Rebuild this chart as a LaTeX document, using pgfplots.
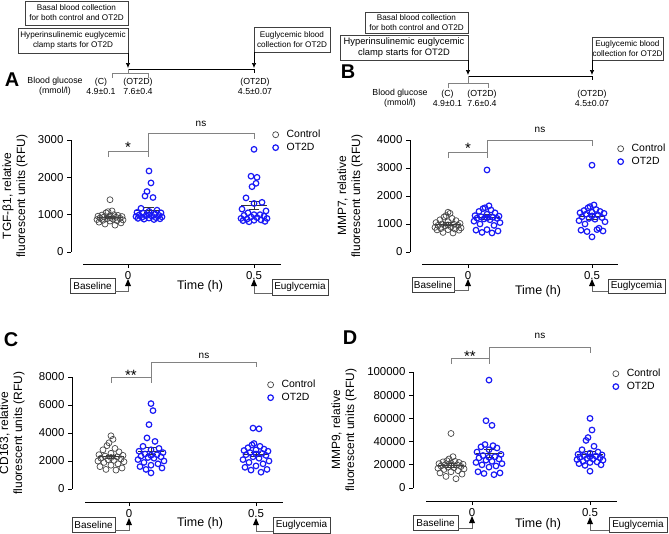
\documentclass[border=0pt]{standalone}
\usepackage{fontspec}
\setmainfont{Liberation Sans}
\usepackage{pgfplots}
\pgfplotsset{compat=1.18}
\usetikzlibrary{arrows.meta}

\definecolor{otblue}{RGB}{25,25,245}
\definecolor{ctrlgray}{RGB}{70,70,70}
\definecolor{brkgray}{RGB}{130,130,130}

\pgfplotsset{
  panel/.style={
    scale only axis, clip=false, anchor=south west,
    axis lines*=left, axis line style={draw=none},
    tick align=outside, major tick length=4bp,
    tick style={black, line width=0.9bp},
    scaled y ticks=false, scaled x ticks=false,
    xtick={0,0.5}, xticklabels={0,0.5},
    tick label style={font=\fontsize{11.5}{12}\selectfont},
    legend style={draw=none, fill=none, anchor=north west,
      font=\fontsize{10.5}{12}\selectfont, nodes={inner sep=1bp},
      row sep=2bp, column sep=7bp},
    legend cell align=left,
  },
  ctrl/.style={only marks, mark=o, mark size=3bp, mark options={draw=ctrlgray, line width=0.7bp}},
  ot/.style={only marks, mark=o, mark size=2.8bp, mark options={draw=otblue, line width=1.2bp}},
  mean/.style={black!80, line width=0.9bp, forget plot, unbounded coords=jump, mark=none},
}
\tikzset{
  box/.style={draw=black!75, line width=0.6bp},
  sch/.style={align=center, inner sep=0pt, font=\fontsize{8.2}{10}\selectfont},
  glu/.style={align=center, inner sep=0pt, font=\fontsize{8.8}{10}\selectfont},
  tl/.style={black, line width=0.8bp},
  brk/.style={draw=brkgray, line width=0.8bp},
  conn/.style={draw=black!60, line width=0.6bp},
  axl/.style={black, line width=1bp},
  arr/.style={-{Latex[length=5bp,width=4.5bp]}, black, line width=0.7bp},
  bt/.style={inner sep=0pt, font=\fontsize{10}{12}\selectfont},
  letter/.style={inner sep=0pt, font=\bfseries\fontsize{20}{20}\selectfont},
  ylab/.style={rotate=90, align=center, inner sep=0pt, font=\fontsize{12}{14}\selectfont},
  tlab/.style={inner sep=0pt, font=\fontsize{12.5}{14}\selectfont},
  star/.style={anchor=base, inner sep=0pt, font=\fontsize{15}{15}\selectfont},
  ns/.style={inner sep=0pt, font=\fontsize{10}{12}\selectfont},
}
% up-pointing filled triangle with its tip at (#1,#2)
\newcommand{\uptri}[2]{\fill[black] (#1-3,#2+7) -- (#1+3,#2+7) -- (#1,#2) -- cycle;}

\begin{document}
\begin{tikzpicture}
\path[use as bounding box] (0,0) rectangle (669bp,-534bp);

\begin{scope}[x=1bp,y=-1bp]
% ---------------- panel A decorations
\draw[box] (25,1) rectangle (128,25);
\node[sch] at (76.5,13) {Basal blood collection\\for both control and OT2D};
\draw[box] (18,28) rectangle (128,53);
\node[sch] at (73,40.5) {Hyperinsulinemic euglycemic\\clamp starts for OT2D};
\draw[box] (254,27) rectangle (330,52);
\node[sch] at (292,39.5) {Euglycemic blood\\collection for OT2D};
\draw[arr] (128,53) -- (128,68);
\draw[arr] (254,52) -- (254,68);
\draw[tl] (128,69) -- (254,69) -- (254,73);
\draw[brk] (128,69) -- (128,73);
\draw[brk] (112,78) -- (112,73) -- (148,73) -- (148,78);
\node[letter] at (12,80) {A};
\node[glu] at (55,86) {Blood glucose\\(mmol/l)};
\node[glu] at (101,86) {(C)\\4.9±0.1};
\node[glu] at (138,86) {(OT2D)\\7.6±0.4};
\node[glu] at (255,86) {(OT2D)\\4.5±0.07};
\draw[brk] (108,157) -- (108,151) -- (148,151) -- (148,157);
\node[star] at (128,152) {*};
\draw[brk] (148,151) -- (148,133) -- (254,133) -- (254,139);
\node[ns] at (201,124) {ns};
\draw[axl] (71,140) -- (71,252);
\draw[axl] (83,264) -- (281,264);
\node[ylab] at (15,196) {TGF-β1, relative\\fluorescent units (RFU)};
\node[tlab] at (200,286) {Time (h)};
\draw[box] (70,278) rectangle (115,293);
\node[bt] at (92.5,285.5) {Baseline};
\draw[conn] (115,291) -| (128,286);
\uptri{128}{279}
\draw[box] (272,279) rectangle (328,295);
\node[bt] at (300,287) {Euglycemia};
\draw[conn] (272,293) -| (254,286);
\uptri{254}{279}

% ---------------- panel B decorations
\draw[box] (365,12) rectangle (468,33);
\node[sch] at (416.5,22.5) {Basal blood collection\\for both control and OT2D};
\draw[box] (340,35) rectangle (468,60);
\node[sch, font=\fontsize{9.4}{10.5}\selectfont] at (404,47.5) {Hyperinsulinemic euglycemic\\clamp starts for OT2D};
\draw[box] (592,37) rectangle (663,60);
\node[sch] at (627.5,48.5) {Euglycemic blood\\collection for OT2D};
\draw[arr] (468,60) -- (468,75);
\draw[arr] (592,60) -- (592,75);
\draw[tl] (468,76) -- (592,76) -- (592,80);
\draw[brk] (468,76) -- (468,83);
\draw[brk] (448,88) -- (448,83) -- (488,83) -- (488,88);
\node[letter] at (348,72) {B};
\node[glu] at (400,98.5) {Blood glucose\\(mmol/l)};
\node[glu] at (447.5,98.5) {(C)\\4.9±0.1};
\node[glu] at (482,98.5) {(OT2D)\\7.6±0.4};
\node[glu] at (592,98.5) {(OT2D)\\4.5±0.07};
\draw[brk] (448,158) -- (448,152) -- (487,152) -- (487,158);
\node[star] at (468,153) {*};
\draw[brk] (487,152) -- (487,140) -- (592,140) -- (592,146);
\node[ns] at (540,130) {ns};
\draw[axl] (410,140) -- (410,252);
\draw[axl] (422,264) -- (618,264);
\node[ylab] at (350,196) {MMP7, relative\\fluorescent units (RFU)};
\node[tlab] at (538,291) {Time (h)};
\draw[box] (412,277) rectangle (454,292);
\node[bt] at (433,284.5) {Baseline};
\draw[conn] (454,290) -| (468,286);
\uptri{468}{279}
\draw[box] (608,279) rectangle (665,293);
\node[bt] at (636.5,286) {Euglycemia};
\draw[conn] (608,291) -| (592,286);
\uptri{592}{279}

% ---------------- panel C decorations
\node[letter] at (11,340) {C};
\draw[brk] (111,383) -- (111,377) -- (151,377) -- (151,383);
\node[star] at (131,380) {**};
\draw[brk] (151,377) -- (151,362) -- (256,362) -- (256,367);
\node[ns] at (204,356) {ns};
\draw[axl] (72,377) -- (72,489);
\draw[axl] (85,502) -- (283,502);
\node[ylab] at (12,433) {CD163, relative\\fluorescent units (RFU)};
\node[tlab] at (200,523) {Time (h)};
\draw[box] (72,517) rectangle (115,532);
\node[bt] at (93.5,524.5) {Baseline};
\draw[conn] (115,530) -| (129,525);
\uptri{129}{518}
\draw[box] (273,517) rectangle (330,533);
\node[bt] at (301.5,525) {Euglycemia};
\draw[conn] (273,531) -| (256,525);
\uptri{256}{518}

% ---------------- panel D decorations
\node[letter] at (350,338) {D};
\draw[brk] (451,364) -- (451,358) -- (489,358) -- (489,364);
\node[star] at (470,361) {**};
\draw[brk] (489,358) -- (489,347) -- (590,347) -- (590,353);
\node[ns] at (540,336) {ns};
\draw[axl] (413,372) -- (413,488);
\draw[axl] (426,501) -- (617,501);
\node[ylab] at (344,430) {MMP9, relative\\fluorescent units (RFU)};
\node[tlab] at (538,524) {Time (h)};
\draw[box] (413,515) rectangle (458,530);
\node[bt] at (435.5,522.5) {Baseline};
\draw[conn] (458,528) -| (472,523);
\uptri{472}{516}
\draw[box] (609,517) rectangle (667,532);
\node[bt] at (638,524.5) {Euglycemia};
\draw[conn] (609,530) -| (590,524);
\uptri{590}{517}
\end{scope}

% ================= A: TGF-beta1
\begin{axis}[panel, at={(71bp,-264bp)}, width=210bp, height=124bp,
  xmin=-0.2262, xmax=0.6071, ymin=-321.4, ymax=3000,
  ytick={0,1000,2000,3000}, yticklabels={0,1000,2000,3000},
  legend style={at={(0.945,1.105)}}]
\addplot[ctrl] table[row sep=\\, x expr={-0.0714+\thisrow{d}/252}, y=v] {d v\\
0 1400\\2 1100\\-2 1080\\-4 1050\\4 1000\\-8 990\\8 980\\0 970\\-12 960\\12 950\\-6 940\\6 930\\0 920\\
-10 910\\10 900\\-3 890\\3 880\\-13 870\\13 860\\-7 850\\7 840\\0 830\\-11 800\\11 780\\-5 750\\5 720\\};
\addplot[ot] table[row sep=\\, x expr={0.0833+\thisrow{d}/252}, y=v] {d v\\
0 2170\\2 1850\\-2 1620\\-4 1500\\4 1460\\-8 1170\\8 1120\\0 1090\\-12 1060\\12 1050\\-6 1040\\6 1020\\0 1000\\
-10 990\\10 980\\-3 970\\3 960\\-13 950\\13 940\\-7 930\\7 920\\0 910\\-11 900\\11 890\\-5 880\\5 870\\};
\addplot[ot, forget plot] table[row sep=\\, x expr={0.5+\thisrow{d}/252}, y=v] {d v\\
0 2750\\-3 2030\\3 2000\\2 1840\\-2 1750\\-8 1450\\8 1330\\0 1300\\-12 1150\\12 1100\\-6 1050\\6 1000\\0 1000\\
-10 980\\10 960\\-3 940\\3 920\\-13 900\\13 900\\-7 880\\7 860\\0 850\\-11 840\\11 820\\-5 810\\};
\addplot[mean] coordinates {(-0.1230,930) (-0.0198,930) (0,nan) (-0.0714,900) (-0.0714,960) (0,nan)
  (-0.0912,960) (-0.0516,960) (0,nan) (-0.0912,900) (-0.0516,900)};
\addplot[mean] coordinates {(0.0317,1125) (0.1349,1125) (0,nan) (0.0833,1055) (0.0833,1195) (0,nan)
  (0.0635,1195) (0.1031,1195) (0,nan) (0.0635,1055) (0.1031,1055)};
\addplot[mean] coordinates {(0.4484,1240) (0.5516,1240) (0,nan) (0.5,1130) (0.5,1350) (0,nan)
  (0.4802,1350) (0.5198,1350) (0,nan) (0.4802,1130) (0.5198,1130)};
\legend{Control, OT2D}
\end{axis}

% ================= B: MMP7
\begin{axis}[panel, at={(410bp,-264bp)}, width=208bp, height=124bp,
  xmin=-0.2339, xmax=0.6048, ymin=-428.6, ymax=4000,
  ytick={0,1000,2000,3000,4000}, yticklabels={0,1000,2000,3000,4000},
  legend style={at={(0.983,0.992)}}]
\addplot[ctrl] table[row sep=\\, x expr={-0.0806+\thisrow{d}/248}, y=v] {d v\\
0 1420\\2 1380\\-2 1300\\-4 1250\\4 1200\\-8 1150\\8 1120\\0 1080\\-12 1050\\12 1020\\-6 1000\\6 990\\0 970\\
-10 950\\10 950\\-3 930\\3 900\\-13 880\\13 860\\-7 840\\7 820\\0 800\\-11 790\\11 780\\-5 700\\5 680\\};
\addplot[ot] table[row sep=\\, x expr={0.0766+\thisrow{d}/248}, y=v] {d v\\
0 2930\\2 1650\\-2 1580\\-4 1550\\4 1500\\-8 1450\\8 1400\\0 1350\\-12 1300\\12 1280\\-6 1260\\6 1240\\0 1220\\
-10 1210\\10 1200\\-3 1180\\3 1150\\-13 1100\\13 1050\\-7 1000\\7 950\\0 800\\-11 780\\11 750\\-5 700\\5 680\\};
\addplot[ot, forget plot] table[row sep=\\, x expr={0.5+\thisrow{d}/248}, y=v] {d v\\
0 3100\\2 1680\\-2 1620\\-4 1580\\4 1520\\-8 1480\\8 1450\\0 1420\\-12 1400\\12 1380\\-6 1350\\6 1320\\0 1290\\
-10 1260\\10 1230\\-3 1200\\3 1170\\-13 1120\\13 1080\\-7 1000\\7 850\\5 800\\-11 780\\11 750\\-5 730\\0 540\\};
\addplot[mean] coordinates {(-0.1330,1000) (-0.0282,1000) (0,nan) (-0.0806,955) (-0.0806,1045) (0,nan)
  (-0.1008,1045) (-0.0604,1045) (0,nan) (-0.1008,955) (-0.0604,955)};
\addplot[mean] coordinates {(0.0242,1240) (0.1290,1240) (0,nan) (0.0766,1150) (0.0766,1330) (0,nan)
  (0.0564,1330) (0.0968,1330) (0,nan) (0.0564,1150) (0.0968,1150)};
\addplot[mean] coordinates {(0.4476,1270) (0.5524,1270) (0,nan) (0.5,1170) (0.5,1370) (0,nan)
  (0.4798,1370) (0.5202,1370) (0,nan) (0.4798,1170) (0.5202,1170)};
\legend{Control, OT2D}
\end{axis}

% ================= C: CD163
\begin{axis}[panel, at={(72bp,-502bp)}, width=211bp, height=125bp,
  xmin=-0.2244, xmax=0.6063, ymin=-928.6, ymax=8000,
  ytick={0,2000,4000,6000,8000}, yticklabels={0,2000,4000,6000,8000},
  legend style={at={(0.912,1.0)}}]
\addplot[ctrl] table[row sep=\\, x expr={-0.0709+\thisrow{d}/254}, y=v] {d v\\
0 3800\\2 3550\\-2 3300\\-4 3100\\4 2900\\-8 2800\\8 2650\\0 2550\\-12 2450\\12 2400\\-6 2350\\6 2300\\0 2250\\
-10 2200\\10 2150\\-3 2100\\3 2050\\-13 2000\\13 1950\\-7 1900\\7 1800\\0 1700\\-11 1600\\11 1500\\-5 1400\\5 1350\\};
\addplot[ot] table[row sep=\\, x expr={0.0866+\thisrow{d}/254}, y=v] {d v\\
0 6100\\2 5600\\-2 4600\\-4 3650\\4 3400\\-8 3050\\8 2900\\0 2800\\-12 2700\\12 2600\\-6 2500\\6 2450\\0 2400\\
-10 2350\\10 2300\\-3 2250\\3 2200\\-13 2100\\13 2000\\-7 1900\\7 1800\\0 1700\\-11 1600\\11 1500\\-5 1400\\0 1150\\};
\addplot[ot, forget plot] table[row sep=\\, x expr={0.5+\thisrow{d}/254}, y=v] {d v\\
-3 4350\\3 4300\\-2 3250\\-4 3150\\4 3050\\-8 2950\\8 2850\\0 2800\\-12 2750\\12 2700\\-6 2600\\6 2550\\0 2500\\
-10 2450\\10 2400\\-3 2300\\3 2200\\-13 2100\\13 2000\\-7 1900\\7 1800\\0 1650\\-11 1550\\11 1400\\-5 1350\\5 1200\\};
\addplot[mean] coordinates {(-0.1221,2310) (-0.0197,2310) (0,nan) (-0.0709,2200) (-0.0709,2420) (0,nan)
  (-0.0906,2420) (-0.0512,2420) (0,nan) (-0.0906,2200) (-0.0512,2200)};
\addplot[mean] coordinates {(0.0354,2700) (0.1378,2700) (0,nan) (0.0866,2450) (0.0866,2950) (0,nan)
  (0.0669,2950) (0.1063,2950) (0,nan) (0.0669,2450) (0.1063,2450)};
\addplot[mean] coordinates {(0.4488,2470) (0.5512,2470) (0,nan) (0.5,2320) (0.5,2620) (0,nan)
  (0.4803,2620) (0.5197,2620) (0,nan) (0.4803,2320) (0.5197,2320)};
\legend{Control, OT2D}
\end{axis}

% ================= D: MMP9
\begin{axis}[panel, at={(413bp,-501bp)}, width=204bp, height=129bp,
  xmin=-0.25, xmax=0.6144, ymin=-11207, ymax=100000,
  ytick={0,20000,40000,60000,80000,100000}, yticklabels={0,20000,40000,60000,80000,100000},
  legend style={at={(0.964,1.047)}}]
\addplot[ctrl] table[row sep=\\, x expr={-0.089+\thisrow{d}/236}, y=v] {d v\\
0 47000\\2 27000\\-2 25000\\-4 23500\\4 23000\\-8 22500\\8 22000\\0 21500\\-12 21000\\12 20500\\-6 20000\\6 20000\\0 19500\\
-10 19000\\10 18500\\-3 18000\\3 17500\\-13 17000\\13 16500\\-7 16000\\7 15000\\0 14000\\-11 13000\\11 12000\\-5 10000\\5 8000\\};
\addplot[ot] table[row sep=\\, x expr={0.072+\thisrow{d}/236}, y=v] {d v\\
0 93000\\-3 58000\\3 54000\\-4 37500\\4 36500\\-8 35500\\8 34500\\0 33000\\-12 31000\\12 29000\\-6 28000\\6 27000\\0 26500\\
-10 26000\\10 25000\\-3 24000\\3 23000\\-13 22000\\13 21000\\-7 20000\\7 19000\\0 18000\\-11 14000\\11 13000\\-5 12500\\5 11500\\};
\addplot[ot, forget plot] table[row sep=\\, x expr={0.5+\thisrow{d}/236}, y=v] {d v\\
0 60000\\2 50000\\-2 43500\\-4 41000\\4 36000\\-8 33000\\8 31000\\0 30000\\-12 29000\\12 28500\\-6 28000\\6 27500\\0 27000\\
-10 26500\\10 26000\\-3 25500\\3 25000\\-13 24500\\13 24000\\-7 23000\\7 22500\\0 22000\\-11 21000\\11 20000\\-5 19500\\0 14500\\};
\addplot[mean] coordinates {(-0.1441,19500) (-0.0339,19500) (0,nan) (-0.089,18000) (-0.089,21000) (0,nan)
  (-0.1102,21000) (-0.0678,21000) (0,nan) (-0.1102,18000) (-0.0678,18000)};
\addplot[mean] coordinates {(0.0169,29700) (0.1271,29700) (0,nan) (0.072,26200) (0.072,33200) (0,nan)
  (0.0508,33200) (0.0932,33200) (0,nan) (0.0508,26200) (0.0932,26200)};
\addplot[mean] coordinates {(0.4449,29200) (0.5551,29200) (0,nan) (0.5,27200) (0.5,31200) (0,nan)
  (0.4788,31200) (0.5212,31200) (0,nan) (0.4788,27200) (0.5212,27200)};
\legend{Control, OT2D}
\end{axis}
\end{tikzpicture}
\end{document}
